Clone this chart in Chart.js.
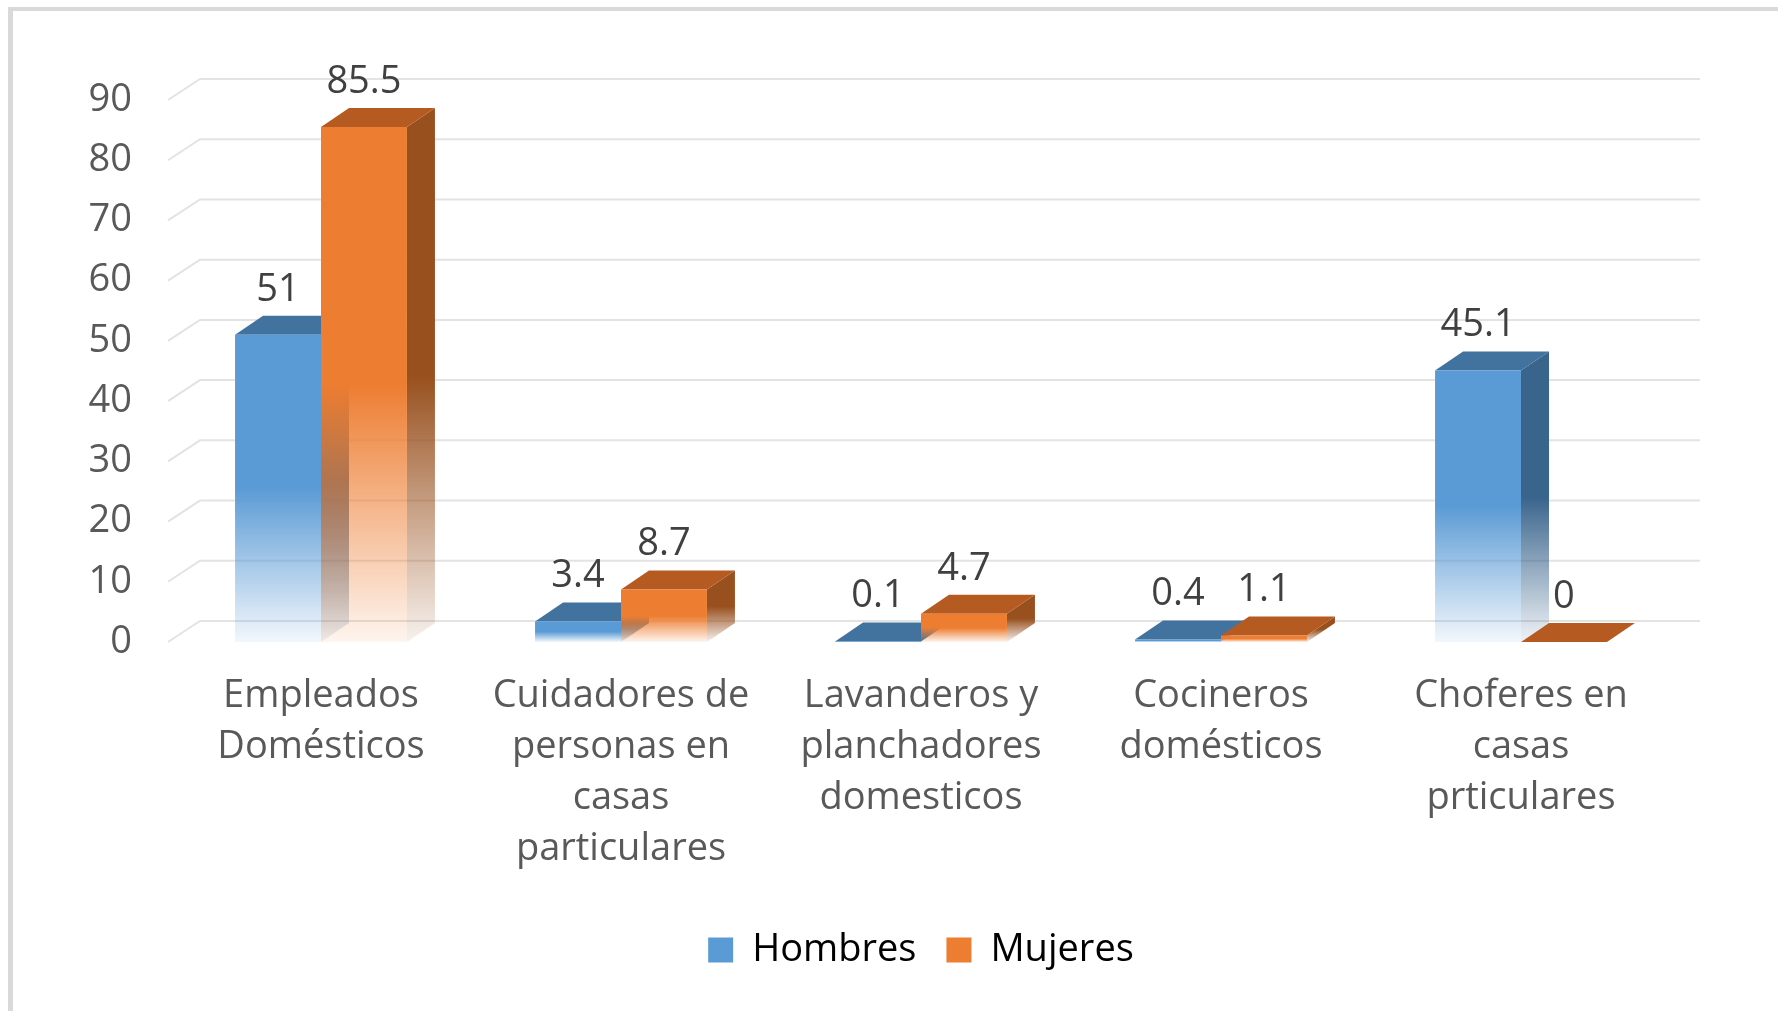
<!DOCTYPE html>
<html>
<head>
<meta charset="utf-8">
<script src="https://cdn.jsdelivr.net/npm/chart.js@4"></script>
<style>
  html, body { margin: 0; padding: 0; background: #ffffff; overflow: hidden; }
  #frame {
    position: absolute; left: 8px; top: 7px; width: 1800px; height: 1100px;
    border-left: 5px solid #d9d9d9; border-top: 4px solid #d9d9d9;
  }
  #chart { position: absolute; left: 0; top: 0; }
</style>
</head>
<body>
<div id="frame"></div>
<canvas id="chart" width="1778" height="1011"></canvas>
<script>
// Categories (x axis, multi-line) and the two series
var categories = [
    ["Empleados", "Domésticos"],
    ["Cuidadores de", "personas en", "casas", "particulares"],
    ["Lavanderos y", "planchadores", "domesticos"],
    ["Cocineros", "domésticos"],
    ["Choferes en", "casas", "prticulares"]
];
var seriesNames = ["Hombres", "Mujeres"];
var hombres = [51, 3.4, 0.1, 0.4, 45.1];
var mujeres = [85.5, 8.7, 4.7, 1.1, 0];
var yMax = 90;
var yStep = 10;

// colours for the faces of each 3D bar: front, top, side
var palette = [
    { front: [91, 155, 213], top: [66, 114, 158], side: [57, 100, 140] },
    { front: [237, 125, 49], top: [181, 91, 34], side: [152, 80, 30] }
];
var DX = 28, DY = 19; // bar depth

function rgba(c, a) {
    return "rgba(" + c[0] + "," + c[1] + "," + c[2] + "," + a + ")";
}

// vertical fade: solid in the upper half, washing out towards the base
function fadeGradient(ctx, c, top, base) {
    var g = ctx.createLinearGradient(0, top, 0, base);
    g.addColorStop(0, rgba(c, 1));
    g.addColorStop(0.5, rgba(c, 1));
    g.addColorStop(1, rgba(c, 0.08));
    return g;
}

function frontColor(idx) {
    return function (c) {
        var col = palette[idx].front;
        var ch = c.chart;
        if (c.type !== "data" || !ch.chartArea || !ch.scales.y) return rgba(col, 1);
        var top = ch.scales.y.getPixelForValue(c.parsed.y);
        var base = ch.scales.y.getPixelForValue(0);
        if (base - top < 1) return rgba(col, 1);
        return fadeGradient(ch.ctx, col, top, base);
    };
}

// gridlines with a slanted floor edge, plus top and side faces of each bar
var bar3d = {
    id: "bar3d",
    beforeDatasetsDraw: function (chart) {
        var ctx = chart.ctx, area = chart.chartArea, y = chart.scales.y;
        ctx.save();
        ctx.strokeStyle = "#e3e3e3";
        ctx.lineWidth = 2;
        y.ticks.forEach(function (t) {
            var py = y.getPixelForValue(t.value);
            ctx.beginPath();
            ctx.moveTo(area.left - 3, py);
            ctx.lineTo(area.left + 29, py - 21);
            ctx.lineTo(area.right + 29, py - 21);
            ctx.stroke();
        });
        chart.data.datasets.forEach(function (ds, i) {
            var col = palette[i];
            chart.getDatasetMeta(i).data.forEach(function (bar) {
                var p = bar.getProps(["x", "y", "base", "width"], true);
                var l = p.x - p.width / 2, r = p.x + p.width / 2;
                if (p.base - p.y >= 1) {
                    ctx.fillStyle = fadeGradient(ctx, col.side, p.y - DY, p.base);
                    ctx.beginPath();
                    ctx.moveTo(r, p.y);
                    ctx.lineTo(r + DX, p.y - DY);
                    ctx.lineTo(r + DX, p.base - DY);
                    ctx.lineTo(r, p.base);
                    ctx.closePath();
                    ctx.fill();
                }
                ctx.fillStyle = rgba(col.top, 1);
                ctx.beginPath();
                ctx.moveTo(l, p.y);
                ctx.lineTo(l + DX, p.y - DY);
                ctx.lineTo(r + DX, p.y - DY);
                ctx.lineTo(r, p.y);
                ctx.closePath();
                ctx.fill();
            });
        });
        ctx.restore();
    },
    afterDatasetsDraw: function (chart) {
        var ctx = chart.ctx;
        ctx.save();
        ctx.font = "38px 'Open Sans'";
        ctx.fillStyle = "#404040";
        ctx.textAlign = "center";
        ctx.textBaseline = "middle";
        chart.data.datasets.forEach(function (ds, i) {
            chart.getDatasetMeta(i).data.forEach(function (bar, j) {
                var p = bar.getProps(["x", "y"], true);
                ctx.fillText(String(ds.data[j]), p.x, p.y - 45);
            });
        });
        ctx.restore();
    }
};

var ctx = document.getElementById("chart").getContext("2d");

var chart = new Chart(ctx, {
    type: "bar",
    data: {
        labels: categories,
        datasets: [
            {
                label: seriesNames[0],
                data: hombres,
                backgroundColor: frontColor(0),
                barPercentage: 1,
                categoryPercentage: 0.573
            },
            {
                label: seriesNames[1],
                data: mujeres,
                backgroundColor: frontColor(1),
                barPercentage: 1,
                categoryPercentage: 0.573
            }
        ]
    },
    plugins: [bar3d],
    options: {
        responsive: false,
        animation: false,
        layout: {
            padding: { top: 100, right: 107, left: 0, bottom: 32 }
        },
        scales: {
            x: {
                grid: { display: false, drawTicks: false },
                border: { display: false },
                ticks: {
                    color: "#595959",
                    padding: 29,
                    maxRotation: 0,
                    autoSkip: false,
                    font: { family: "'Open Sans'", size: 38, lineHeight: 1.34 }
                },
                afterFit: function (scale) { scale.height = 259; }
            },
            y: {
                min: 0,
                max: yMax,
                grid: { display: false, drawTicks: false },
                border: { display: false },
                ticks: {
                    stepSize: yStep,
                    color: "#595959",
                    padding: 39,
                    font: { family: "'Open Sans'", size: 38 }
                },
                afterFit: function (scale) { scale.width = 171; }
            }
        },
        plugins: {
            tooltip: { enabled: false },
            legend: {
                position: "bottom",
                fullSize: false,
                labels: {
                    color: "#595959",
                    boxWidth: 25,
                    boxHeight: 25,
                    padding: 30,
                    font: { family: "'Open Sans'", size: 38 },
                    generateLabels: function (ch) {
                        return ch.data.datasets.map(function (ds, i) {
                            return {
                                text: ds.label,
                                fillStyle: rgba(palette[i].front, 1),
                                strokeStyle: "rgba(0,0,0,0)",
                                lineWidth: 0,
                                datasetIndex: i
                            };
                        });
                    }
                }
            }
        }
    }
});
</script>
</body>
</html>
